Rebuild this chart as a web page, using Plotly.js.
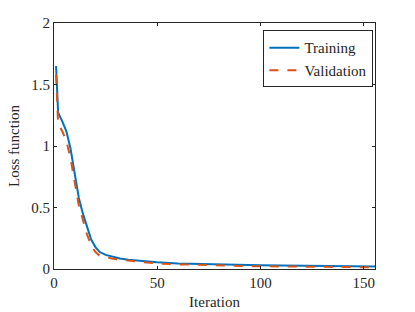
<!DOCTYPE html>
<html><head><meta charset="utf-8">
<script src="https://cdn.plot.ly/plotly-3.0.1.min.js"></script>
<style>html,body{margin:0;padding:0;background:#fff;}#c{width:415px;height:312px;}</style>
</head><body><div id="c"></div>
<script>
const iterTrain = [1,2,4,6,8,10,12,14,16,18,20,22,25,28,32,36,40,45,50,60,70,80,90,100,110,120,130,140,150,156];
const lossTrain = [1.65,1.27,1.20,1.12,0.98,0.78,0.58,0.45,0.34,0.24,0.18,0.14,0.115,0.10,0.085,0.075,0.068,0.06,0.055,0.045,0.04,0.035,0.032,0.03,0.028,0.025,0.023,0.021,0.02,0.02];
const iterVal = [1,2,4,6,8,10,12,14,16,18,20,22,25,28,32,36,40,45,50,60,70,80,90,100,110,120,130,140,150,156];
const lossVal = [1.58,1.18,1.12,1.04,0.90,0.70,0.52,0.40,0.28,0.19,0.14,0.11,0.095,0.085,0.075,0.068,0.06,0.052,0.045,0.038,0.032,0.028,0.025,0.022,0.02,0.018,0.016,0.015,0.014,0.014];
const xTicks = [0,50,100,150];
const yTicks = [0,0.5,1,1.5,2];

const font = {family:'Liberation Serif', size:15, color:'#262626'};
const data = [
  {x:iterTrain, y:lossTrain, type:'scatter', mode:'lines', name:'Training', line:{color:'#0072BD', width:2}},
  {x:iterVal, y:lossVal, type:'scatter', mode:'lines', name:'Validation', line:{color:'#D95319', width:2, dash:'dash'}}
];
const axCommon = {showline:true, linecolor:'#262626', linewidth:1, mirror:'ticks', ticks:'inside', ticklen:3, tickcolor:'#262626', showgrid:false, zeroline:false, tickfont:font};
const layout = {
  width:415, height:312,
  margin:{l:54, r:40, t:23, b:43},
  paper_bgcolor:'#fff', plot_bgcolor:'#fff',
  font:font,
  showlegend:true,
  legend:{x:0.995, y:0.97, xanchor:'right', yanchor:'top', bgcolor:'#fff', bordercolor:'#262626', borderwidth:1, font:font, tracegroupgap:0, itemwidth:30},
  xaxis:Object.assign({}, axCommon, {range:[0,155.5], tickvals:xTicks, ticktext:xTicks.map(String), title:{text:'Iteration', font:font, standoff:6}}),
  yaxis:Object.assign({}, axCommon, {range:[0,2], tickvals:yTicks, ticktext:yTicks.map(String), title:{text:'Loss function', font:font, standoff:8}})
};
Plotly.newPlot('c', data, layout, {staticPlot:true});
</script></body></html>
